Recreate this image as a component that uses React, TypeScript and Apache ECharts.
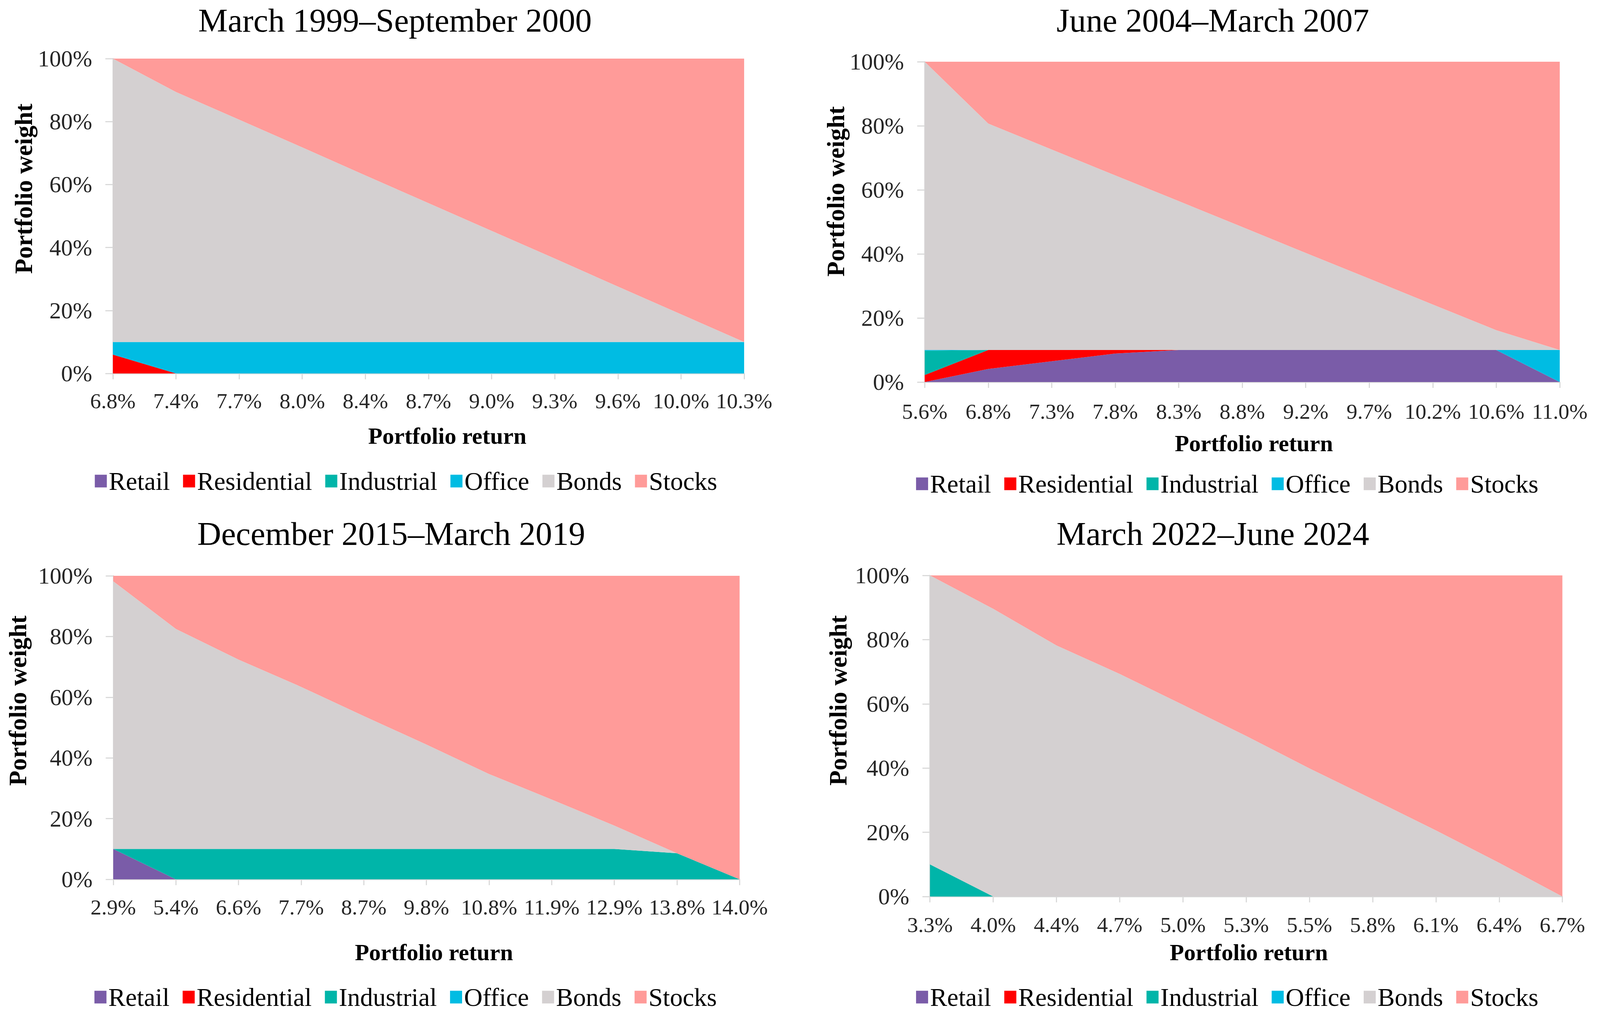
import React, { useEffect, useRef } from "react";
import * as echarts from "echarts";

// ---------- data ----------
const SERIES_NAMES = ["Retail", "Residential", "Industrial", "Office", "Bonds", "Stocks"];
const SERIES_COLORS = ["#7a5ca8", "#ff0000", "#00b5a9", "#00bce3", "#d4d0d1", "#ff9b99"];

const TITLES = [
  "March 1999–September 2000",
  "June 2004–March 2007",
  "December 2015–March 2019",
  "March 2022–June 2024",
];

const returns1 = ["6.8%", "7.4%", "7.7%", "8.0%", "8.4%", "8.7%", "9.0%", "9.3%", "9.6%", "10.0%", "10.3%"];
const retail1 = [0, 0, 0, 0, 0, 0, 0, 0, 0, 0, 0];
const residential1 = [6, 0, 0, 0, 0, 0, 0, 0, 0, 0, 0];
const industrial1 = [0, 0, 0, 0, 0, 0, 0, 0, 0, 0, 0];
const office1 = [4, 10, 10, 10, 10, 10, 10, 10, 10, 10, 10];
const bonds1 = [90, 79.4, 70.6, 61.8, 52.9, 44.1, 35.3, 26.5, 17.6, 8.8, 0];
const stocks1 = [0, 10.6, 19.4, 28.2, 37.1, 45.9, 54.7, 63.5, 72.4, 81.2, 90];

const returns2 = ["5.6%", "6.8%", "7.3%", "7.8%", "8.3%", "8.8%", "9.2%", "9.7%", "10.2%", "10.6%", "11.0%"];
const retail2 = [0, 4.1, 6.5, 8.9, 10, 10, 10, 10, 10, 10, 0];
const residential2 = [2.2, 5.9, 3.5, 1.1, 0, 0, 0, 0, 0, 0, 0];
const industrial2 = [7.6, 0, 0, 0, 0, 0, 0, 0, 0, 0, 0];
const office2 = [0.2, 0, 0, 0, 0, 0, 0, 0, 0, 0, 10];
const bonds2 = [90, 70.7, 62.6, 54.5, 46.5, 38.4, 30.3, 22.3, 14.2, 6.2, 0];
const stocks2 = [0, 19.3, 27.4, 35.5, 43.5, 51.6, 59.7, 67.7, 75.8, 83.8, 90];

const returns3 = ["2.9%", "5.4%", "6.6%", "7.7%", "8.7%", "9.8%", "10.8%", "11.9%", "12.9%", "13.8%", "14.0%"];
const retail3 = [10, 0, 0, 0, 0, 0, 0, 0, 0, 0, 0];
const residential3 = [0, 0, 0, 0, 0, 0, 0, 0, 0, 0, 0];
const industrial3 = [0, 10, 10, 10, 10, 10, 10, 10, 10, 8.6, 0];
const office3 = [0, 0, 0, 0, 0, 0, 0, 0, 0, 0, 0];
const bonds3 = [88.2, 72.5, 62.4, 53.4, 43.8, 34.4, 24.7, 16.3, 7.7, 0, 0];
const stocks3 = [1.8, 17.5, 27.6, 36.6, 46.2, 55.6, 65.3, 73.7, 82.3, 91.4, 100];

const returns4 = ["3.3%", "4.0%", "4.4%", "4.7%", "5.0%", "5.3%", "5.5%", "5.8%", "6.1%", "6.4%", "6.7%"];
const retail4 = [0, 0, 0, 0, 0, 0, 0, 0, 0, 0, 0];
const residential4 = [0, 0, 0, 0, 0, 0, 0, 0, 0, 0, 0];
const industrial4 = [10, 0, 0, 0, 0, 0, 0, 0, 0, 0, 0];
const office4 = [0, 0, 0, 0, 0, 0, 0, 0, 0, 0, 0];
const bonds4 = [90, 89.6, 78.2, 69.3, 59.7, 50, 39.9, 30.3, 20.6, 10.5, 0];
const stocks4 = [0, 10.4, 21.8, 30.7, 40.3, 50, 60.1, 69.7, 79.4, 89.5, 100];

const Y_TICKS_MIN = 0;
const Y_TICKS_MAX = 100;
const Y_TICKS_STEP = 20;

const PANELS = [
  { cats: returns1, values: [retail1, residential1, industrial1, office1, bonds1, stocks1] },
  { cats: returns2, values: [retail2, residential2, industrial2, office2, bonds2, stocks2] },
  { cats: returns3, values: [retail3, residential3, industrial3, office3, bonds3, stocks3] },
  { cats: returns4, values: [retail4, residential4, industrial4, office4, bonds4, stocks4] },
];

// ---------- layout (designed for a 4253 x 2606 page; scaled to the real viewport) ----------
const W = 4253;
const H = 2606;
const FONT = "'Liberation Serif', 'Times New Roman', serif";

const LAYOUT = [
  { left: 300, width: 1678, top: 150, height: 806, titleX: 1050, titleY: 52, xGap: 130, xPad: 100, xMargin: 42, yGap: 203, yPad: 140, legLeft: 252, legTop: 1199 },
  { left: 2458, width: 1688, top: 158, height: 820, titleX: 3224, titleY: 52, xGap: 127, xPad: 62, xMargin: 47, yGap: 197, yPad: 156, legLeft: 2435, legTop: 1206 },
  { left: 301, width: 1665, top: 1474, height: 777, titleX: 1040, titleY: 1366, xGap: 157, xPad: 40, xMargin: 43, yGap: 221, yPad: 138, legLeft: 251, legTop: 2520 },
  { left: 2472, width: 1681, top: 1473, height: 822, titleX: 3224, titleY: 1366, xGap: 113, xPad: 14, xMargin: 44, yGap: 211, yPad: 182, legLeft: 2435, legTop: 2520 },
];

const AXIS_GRAY = "#d9d9d9";

function buildOption(sx: number, sy: number) {
  const s = Math.min(sx, sy);
  const grid = LAYOUT.map((l) => ({
    left: l.left * sx,
    top: l.top * sy,
    width: l.width * sx,
    height: l.height * sy,
    containLabel: false,
  }));
  const title = LAYOUT.map((l, i) => ({
    text: TITLES[i],
    left: l.titleX * sx,
    top: l.titleY * sy,
    textAlign: "center",
    textVerticalAlign: "middle",
    padding: 0,
    textStyle: { fontFamily: FONT, fontSize: 88 * s, fontWeight: "normal", color: "#000" },
  }));
  const xAxis = LAYOUT.map((l, i) => ({
    type: "category",
    gridIndex: i,
    data: PANELS[i].cats,
    boundaryGap: false,
    name: "Portfolio return",
    nameLocation: "middle",
    nameGap: l.xGap * sy,
    nameTextStyle: {
      fontFamily: FONT,
      fontSize: 62 * s,
      fontWeight: "bold",
      color: "#000",
      padding: [0, 0, 0, l.xPad * sx],
    },
    axisLine: { show: true, lineStyle: { color: AXIS_GRAY, width: 3 * s } },
    axisTick: {
      show: true,
      length: 15 * sy,
      interval: 0,
      alignWithLabel: true,
      lineStyle: { color: AXIS_GRAY, width: 3 * s },
    },
    axisLabel: { interval: 0, fontFamily: FONT, fontSize: 58 * s, color: "#262626", margin: l.xMargin * sy },
    splitLine: { show: false },
  }));
  const yAxis = LAYOUT.map((l, i) => ({
    type: "value",
    gridIndex: i,
    min: Y_TICKS_MIN,
    max: Y_TICKS_MAX,
    interval: Y_TICKS_STEP,
    name: "Portfolio weight",
    nameLocation: "middle",
    nameGap: l.yGap * sx,
    nameTextStyle: {
      fontFamily: FONT,
      fontSize: 66 * s,
      fontWeight: "bold",
      color: "#000",
      padding: [0, 0, 0, l.yPad * sy],
    },
    axisLine: { show: true, lineStyle: { color: AXIS_GRAY, width: 3 * s } },
    axisTick: { show: true, length: 20 * sx, lineStyle: { color: AXIS_GRAY, width: 3 * s } },
    axisLabel: { formatter: "{value}%", fontFamily: FONT, fontSize: 62 * s, color: "#262626", margin: 55 * sx },
    splitLine: { show: false },
  }));
  const legend = LAYOUT.map((l) => ({
    data: SERIES_NAMES,
    left: l.legLeft * sx,
    top: l.legTop * sy,
    orient: "horizontal",
    icon: "rect",
    itemWidth: 32 * s,
    itemHeight: 34 * s,
    itemGap: 35 * sx,
    padding: 0,
    selectedMode: false,
    textStyle: { fontFamily: FONT, fontSize: 68 * s, color: "#000" },
  }));
  const series: any[] = [];
  PANELS.forEach((p, gi) => {
    SERIES_NAMES.forEach((name, si) => {
      series.push({
        type: "line",
        name,
        xAxisIndex: gi,
        yAxisIndex: gi,
        stack: "panel" + gi,
        data: p.values[si],
        symbol: "none",
        showSymbol: false,
        silent: true,
        lineStyle: { width: 0 },
        itemStyle: { color: SERIES_COLORS[si] },
        areaStyle: { color: SERIES_COLORS[si], opacity: 1 },
        emphasis: { disabled: true },
      });
    });
  });
  return {
    animation: false,
    backgroundColor: "#ffffff",
    title,
    grid,
    xAxis,
    yAxis,
    legend,
    series,
  };
}

export default function App() {
  const ref = useRef<HTMLDivElement>(null);
  useEffect(() => {
    const el = ref.current;
    if (!el) return;
    const cw = el.clientWidth || W;
    const ch = el.clientHeight || H;
    const chart = echarts.init(el, undefined, { renderer: "svg", width: cw, height: ch });
    chart.setOption(buildOption(cw / W, ch / H) as any);
    return () => {
      chart.dispose();
    };
  }, []);
  return (
    <div
      ref={ref}
      style={{ position: "fixed", left: 0, top: 0, width: "100vw", height: "100vh", background: "#fff" }}
    />
  );
}
